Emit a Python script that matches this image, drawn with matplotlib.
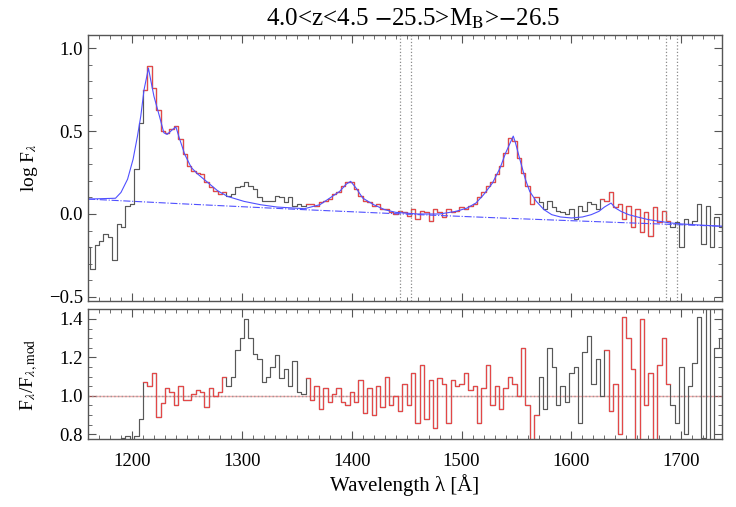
import matplotlib
matplotlib.use("Agg")
import matplotlib.pyplot as plt
import numpy as np
from matplotlib.ticker import MultipleLocator, AutoMinorLocator

# --- data (4 A bins) ---
wave = np.arange(1160, 1740, 4)

log_flux = [
    -0.20, -0.33, -0.19, -0.16, -0.12, -0.14, -0.28, -0.06, -0.08, 0.05,
    0.06, 0.27, 0.55, 0.75, 0.89, 0.76, 0.63, 0.50, 0.49, 0.51,
    0.53, 0.45, 0.36, 0.29, 0.26, 0.25, 0.24, 0.19, 0.16, 0.14,
    0.12, 0.13, 0.11, 0.12, 0.16, 0.17, 0.19, 0.17, 0.15, 0.10,
    0.08, 0.08, 0.08, 0.11, 0.10, 0.07, 0.10, 0.05, 0.06, 0.05,
    0.06, 0.06, 0.05, 0.07, 0.08, 0.09, 0.12, 0.13, 0.17, 0.19,
    0.19, 0.15, 0.11, 0.08, 0.07, 0.05, 0.06, 0.03, 0.03, 0.01,
    0.00, 0.02, 0.01, -0.01, 0.03, -0.03, 0.02, 0.01, -0.04, 0.03,
    0.01, -0.02, 0.03, 0.01, 0.02, 0.04, 0.03, 0.05, 0.06, 0.10,
    0.13, 0.17, 0.19, 0.24, 0.29, 0.37, 0.46, 0.44, 0.34, 0.25,
    0.17, 0.06, 0.10, 0.07, 0.03, 0.08, 0.04, 0.02, 0.01, 0.00,
    0.03, -0.03, 0.05, 0.02, 0.07, 0.06, 0.03, 0.09, 0.08, 0.13,
    0.04, 0.06, -0.03, 0.05, -0.08, 0.03, -0.11, 0.01, -0.13, 0.04,
    -0.05, 0.02, -0.04, -0.08, -0.05, -0.20, -0.03, -0.06, -0.04, 0.06,
    -0.18, 0.05, -0.20, -0.02, -0.08,
]

ratio = [
    0.60, 0.55, 0.60, 0.62, 0.65, 0.62, 0.50, 0.70, 0.78, 0.79,
    0.70, 0.79, 0.88, 1.07, 1.05, 1.12, 0.89, 0.96, 1.04, 1.02,
    0.95, 1.05, 0.98, 0.98, 1.01, 1.03, 1.02, 0.94, 1.04, 1.00,
    1.02, 1.10, 1.05, 1.10, 1.24, 1.30, 1.40, 1.30, 1.22, 1.19,
    1.07, 1.10, 1.15, 1.21, 1.09, 1.14, 1.05, 1.18, 1.02, 1.01,
    1.09, 0.98, 1.05, 0.93, 1.04, 0.97, 1.01, 1.04, 0.97, 0.95,
    1.02, 0.97, 1.08, 0.91, 1.04, 0.90, 1.05, 0.94, 1.10, 0.95,
    1.00, 0.92, 1.06, 0.95, 1.12, 0.86, 1.16, 0.88, 1.08, 0.83,
    1.09, 1.06, 0.86, 1.08, 1.05, 1.06, 1.12, 1.03, 1.05, 0.86,
    1.04, 1.16, 0.95, 1.05, 0.93, 1.04, 1.10, 1.06, 1.00, 1.25,
    0.95, 0.77, 0.90, 1.10, 0.93, 1.25, 1.15, 0.95, 1.05, 0.97,
    1.12, 1.15, 0.86, 1.23, 1.31, 1.06, 1.19, 1.00, 1.24, 0.92,
    1.06, 0.80, 1.41, 1.30, 1.14, 0.70, 1.40, 0.95, 1.12, 0.75,
    1.16, 1.30, 1.06, 0.95, 0.86, 1.15, 0.80, 1.05, 1.17, 1.41,
    0.78, 1.50, 0.70, 1.25, 1.30,
]

# fitted model (blue) and power-law continuum (dash-dot)
model_wave = [1160, 1185, 1190, 1196, 1201, 1205, 1208, 1211, 1215, 1217,
              1220, 1225, 1229, 1232, 1237, 1240, 1243, 1248, 1254, 1260,
              1269, 1278, 1287, 1302, 1317, 1332, 1357, 1371, 1380, 1389,
              1395, 1399, 1404, 1410, 1420, 1430, 1440, 1460, 1480, 1495,
              1505, 1513, 1520, 1528, 1535, 1540, 1547, 1549, 1553, 1558,
              1562, 1568, 1575, 1582, 1590, 1600, 1610, 1618, 1625, 1630,
              1636, 1640, 1645, 1652, 1660, 1670, 1680, 1690, 1700, 1715, 1737]
model_flux = [0.09, 0.095, 0.13, 0.21, 0.33, 0.47, 0.59, 0.75, 0.88, 0.81,
              0.71, 0.59, 0.49, 0.48, 0.51, 0.525, 0.46, 0.36, 0.28, 0.24,
              0.19, 0.14, 0.106, 0.076, 0.056, 0.042, 0.032, 0.056, 0.096, 0.136,
              0.18, 0.197, 0.156, 0.096, 0.056, 0.026, 0.01, 0.0, 0.0, 0.016,
              0.036, 0.066, 0.116, 0.186, 0.277, 0.367, 0.47, 0.43, 0.33, 0.21,
              0.136, 0.076, 0.026, -0.004, -0.018, -0.024, -0.018, -0.004, 0.016, 0.042,
              0.066, 0.036, 0.016, -0.004, -0.018, -0.034, -0.044, -0.054, -0.06, -0.066, -0.074]

cont_wave = [1160, 1250, 1350, 1450, 1550, 1650, 1737]
cont_flux = [0.090, 0.060, 0.028, -0.001, -0.028, -0.053, -0.074]

# wavelength windows used in the fit (drawn in red)
fit_windows_top = [(1210, 1286), (1358, 1568), (1628, 1690)]
fit_windows_bot = [(1210, 1286), (1357, 1568), (1630, 1690)]
masked_lines = [1444, 1454, 1686, 1696]

GRAY = '#585858'
RED = '#e44848'
BLUE = '#5050ff'
AXC = '#555555'

plt.rcParams['font.family'] = ['Liberation Serif', 'DejaVu Serif']
plt.rcParams['mathtext.fontset'] = 'stix'


def in_windows(w, windows):
    m = np.zeros(len(w), dtype=bool)
    for lo, hi in windows:
        m |= (w >= lo) & (w <= hi)
    return m


def style_axis(ax):
    for s in ax.spines.values():
        s.set_color(AXC)
        s.set_linewidth(1.0)
    ax.tick_params(which='both', direction='in', top=True, right=True,
                   color=AXC, labelsize=13.5)
    ax.tick_params(which='major', length=6)
    ax.tick_params(which='minor', length=3)


fig = plt.figure(figsize=(7.36, 5.07), dpi=100)
ax1 = fig.add_axes([0.1196, 0.4063, 0.8614, 0.5247])
ax2 = fig.add_axes([0.1196, 0.1335, 0.8614, 0.2570])

flux = np.array(log_flux)
rat = np.array(ratio)

# --- top panel ---
ax1.step(wave, flux, where='mid', color=GRAY, lw=0.85)
ax1.step(wave, np.where(in_windows(wave, fit_windows_top), flux, np.nan),
         where='mid', color=RED, lw=0.85)
ax1.plot(model_wave, model_flux, color=BLUE, lw=0.8)
ax1.plot(cont_wave, cont_flux, color=BLUE, lw=0.8, ls='-.')
for xl in masked_lines:
    ax1.axvline(xl, color='#8a8a8a', ls=':', lw=0.9)

ax1.set_xlim(1160, 1737)
ax1.set_ylim(-0.525, 1.08)
ax1.xaxis.set_major_locator(MultipleLocator(100))
ax1.xaxis.set_minor_locator(MultipleLocator(10))
ax1.yaxis.set_major_locator(MultipleLocator(0.5))
ax1.yaxis.set_minor_locator(MultipleLocator(0.1))
ax1.set_ylabel(r'log F$_\lambda$', fontsize=14)
ax1.yaxis.set_label_coords(-0.075, 0.5)
style_axis(ax1)
ax1.tick_params(labelbottom=False)

# --- bottom panel ---
ax2.axhline(1.0, color=RED, lw=1.0, alpha=0.45)
ax2.axhline(1.0, color='#999999', ls=':', lw=1.0)
ax2.step(wave, rat, where='mid', color=GRAY, lw=0.85)
ax2.step(wave, np.where(in_windows(wave, fit_windows_bot), rat, np.nan),
         where='mid', color=RED, lw=0.85)

ax2.set_xlim(1160, 1737)
ax2.set_ylim(0.773, 1.452)
ax2.xaxis.set_major_locator(MultipleLocator(100))
ax2.xaxis.set_minor_locator(MultipleLocator(10))
ax2.yaxis.set_major_locator(MultipleLocator(0.2))
ax2.yaxis.set_minor_locator(AutoMinorLocator(4))
ax2.set_ylabel(r'F$_\lambda$/F$_{\lambda,\mathrm{mod}}$', fontsize=14)
ax2.yaxis.set_label_coords(-0.075, 0.5)
ax2.set_xlabel('Wavelength λ [Å]', fontsize=15, labelpad=3)
style_axis(ax2)
ax2.tick_params(axis='x', pad=10)

fig.text(0.5617, 0.962, r'4.0<z<4.5 $-$25.5>M$_\mathrm{B}$>$-$26.5',
         ha='center', va='center', fontsize=18)

fig.savefig('out.png', dpi=100)
